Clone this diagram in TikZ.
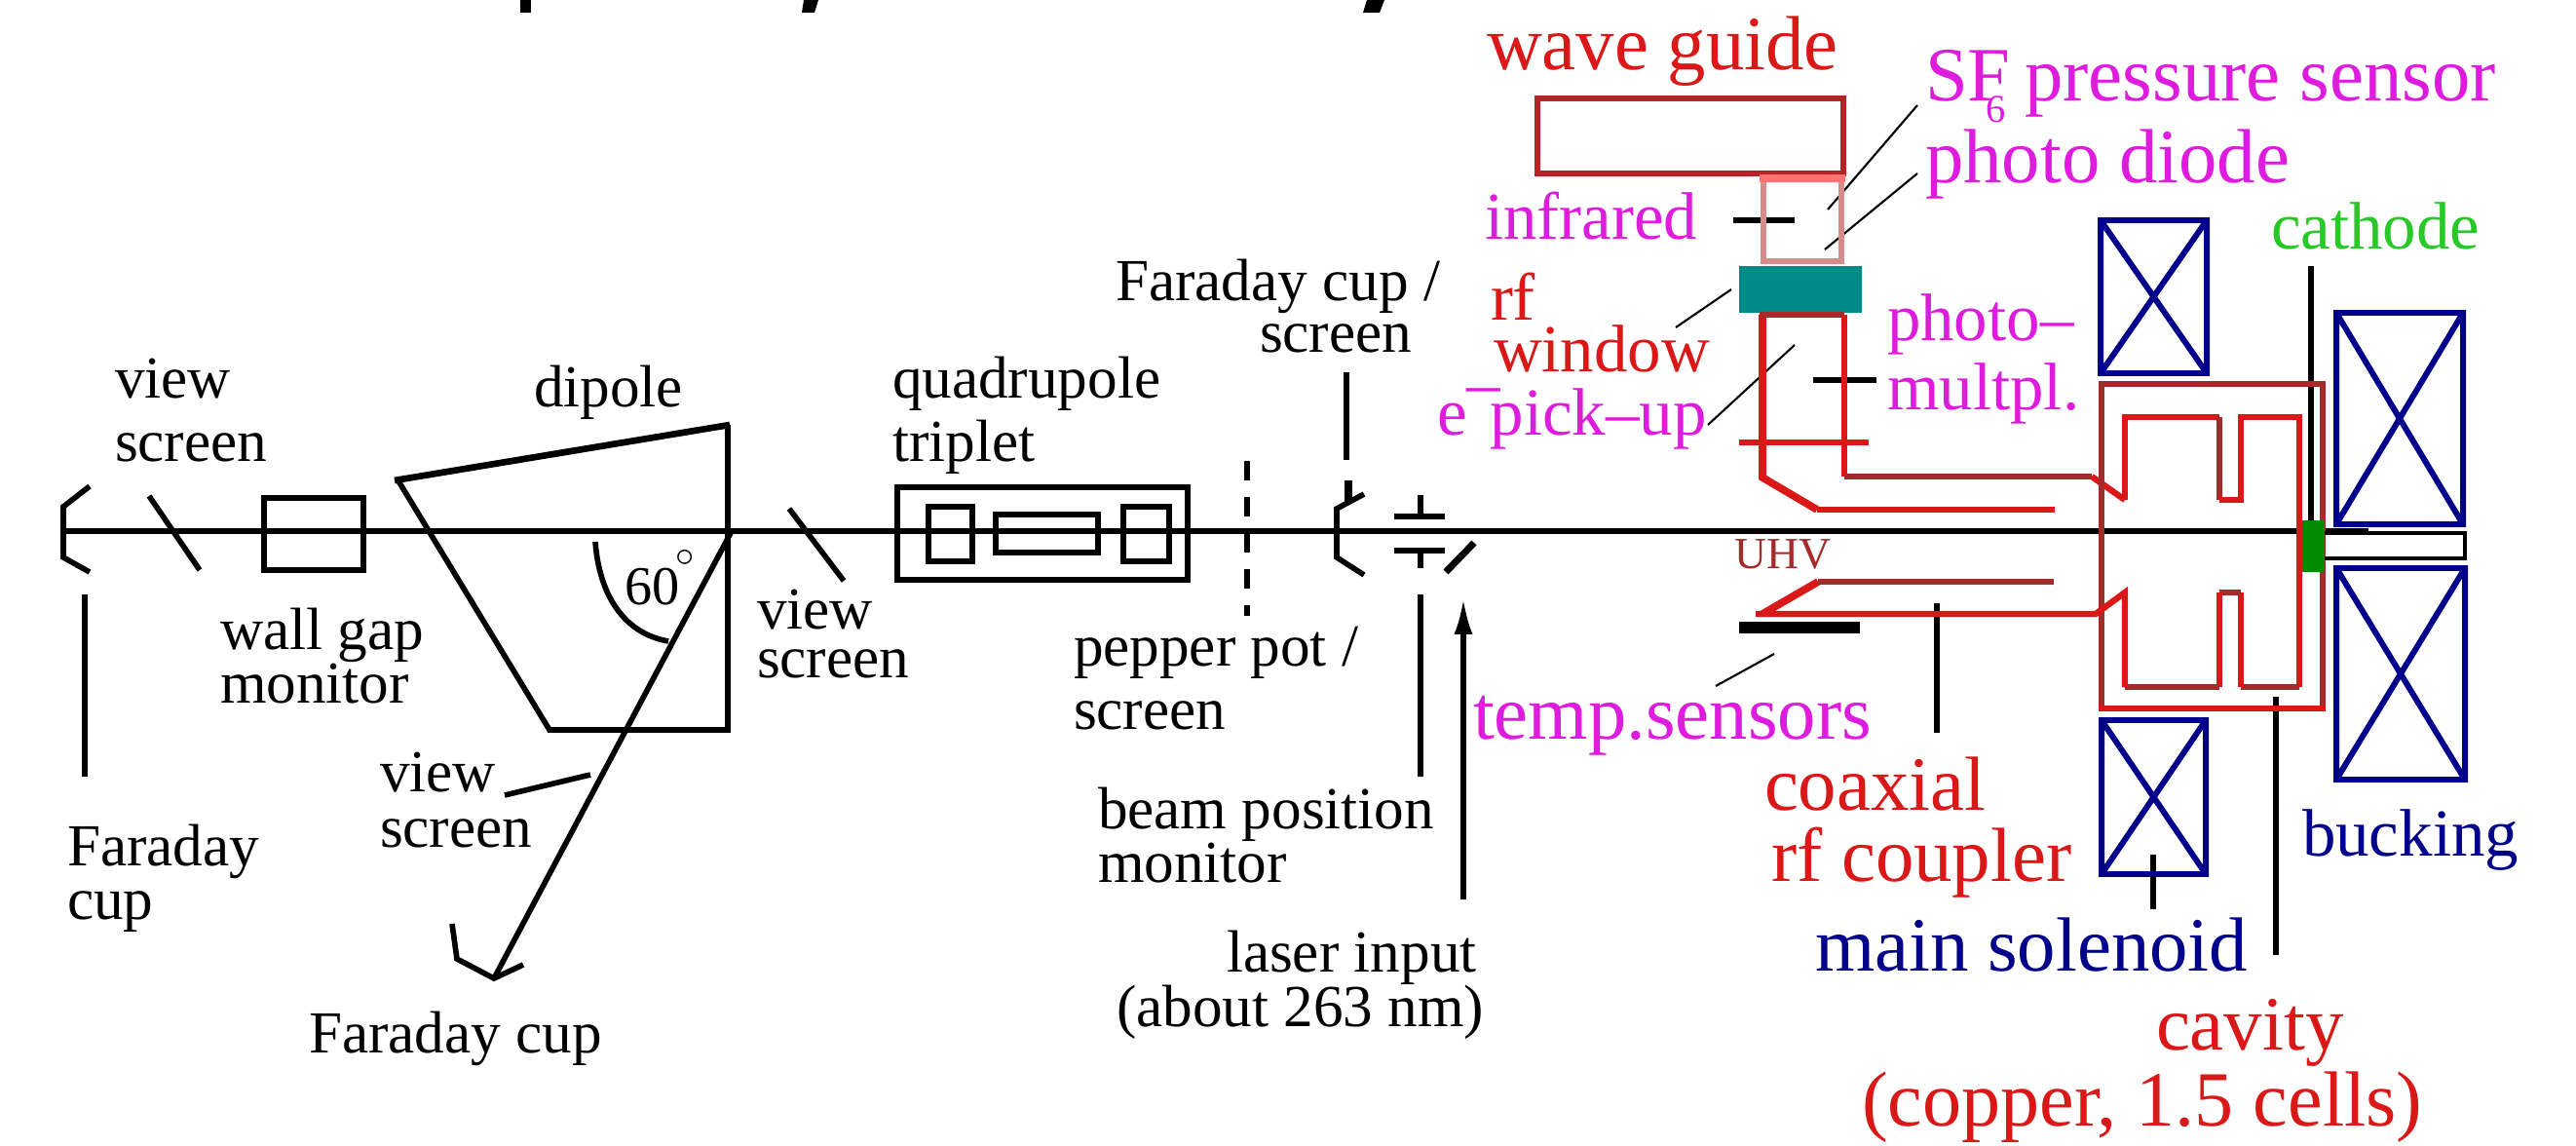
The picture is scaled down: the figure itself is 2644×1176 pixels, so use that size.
\documentclass[tikz,border=0pt]{standalone}
\usepackage{fontspec}
\setmainfont{Liberation Serif}
\usetikzlibrary{arrows.meta}
\definecolor{wavered}{RGB}{218,24,24}
\definecolor{wavebrown}{RGB}{165,42,42}
\definecolor{guidebrown}{RGB}{180,36,36}
\definecolor{sensormag}{RGB}{222,28,222}
\definecolor{coilblue}{RGB}{0,0,139}
\definecolor{windowteal}{RGB}{0,139,139}
\definecolor{cathgreen}{RGB}{0,139,0}
\definecolor{cathlabel}{RGB}{40,200,40}
\definecolor{palerose}{RGB}{215,140,140}
\definecolor{salmonred}{RGB}{255,115,115}
\tikzset{
  lab/.style={anchor=base west,align=left,inner sep=0pt,outer sep=0pt,font=\fontsize{17.4}{18.2}\selectfont},
  big/.style={anchor=base west,align=left,inner sep=0pt,outer sep=0pt,font=\fontsize{22.4}{24}\selectfont},
  mid/.style={anchor=base west,align=left,inner sep=0pt,outer sep=0pt,font=\fontsize{19.6}{21}\selectfont},
  heavy/.style={line width=1.6pt},
  hair/.style={line width=0.6pt},
  coil/.style={coilblue,line width=1.7pt},
  cavred/.style={wavered,line width=1.8pt},
  cavbrown/.style={wavebrown,line width=1.8pt}
}
\begin{document}
\begin{tikzpicture}[x=0.01cm,y=-0.01cm]
  \useasboundingbox (0,0) rectangle (2644,1176);
  % black labels
  \draw
    (118,473) node[lab] (viewA){view\\screen}
    (548,418) node[lab] (dipole){dipole}
    (916,473) node[lab] (triplet){quadrupole\\triplet}
    (226,721) node[lab] (wallgap){wall gap\\[-2.6pt]monitor}
    (777,695) node[lab] (viewB){view\\[-4.2pt]screen}
    (390,869) node[lab] (viewC){view\\[-2pt]screen}
    (69,943) node[lab] (cupA){Faraday\\[-2.6pt]cup}
    (317,1080) node[lab] (cupB){Faraday cup}
    (641,620) node[lab,font=\fontsize{16}{18}\selectfont] (angle){60\kern-.06em\raisebox{.3em}{$^\circ$}}
    (1145,308) node[lab] (cupC){Faraday cup /}
    (1293,362) node[lab] (cupscreen){screen}
    (1102,748) node[lab] (pepper){pepper pot /\\screen}
    (1127,905) node[lab] (bpm){beam position\\[-2.6pt]monitor}
    (1259,997) node[lab] (laser){laser input}
    (1146,1053) node[lab] (laserwl){(about 263 nm)};
  % coloured labels
  \draw
    (1526,72) node[big,wavered] (guide){wave guide}
    (1976,104) node[big,sensormag] (sfsix){SF\kern-.32em\raisebox{-.27em}{\fontsize{11.5}{12}\selectfont 6} pressure sensor}
    (1976,188) node[big,sensormag] (diode){photo diode}
    (1524,246) node[mid,sensormag] (infrared){infrared}
    (1530,329) node[mid,wavered] (rf){rf}
    (1533,382) node[mid,wavered] (window){window}
    (1475,446) node[mid,sensormag] (pickup){e\raisebox{.43em}{–}\kern-.15em pick–up}
    (1937,420) node[mid,sensormag] (multpl){photo–\\[-0.9pt]multpl.}
    (2331,256) node[mid,cathlabel] (cathode){cathode}
    (1780,583) node[wavebrown,anchor=base west,inner sep=0pt,font=\fontsize{13}{14}\selectfont] (uhv){UHV}
    (1512,758) node[big,sensormag] (temp){temp.sensors}
    (1811,831) node[big,wavered] (coaxial){coaxial}
    (1818,904) node[big,wavered] (coupler){rf coupler}
    (1863,996) node[big,coilblue] (solenoid){main solenoid}
    (2363,878) node[mid,coilblue] (bucking){bucking}
    (2213,1077) node[big,wavered] (cavity){cavity}
    (1911,1155) node[big,wavered,font=\fontsize{22.8}{24}\selectfont] (cells){(copper, 1.5 cells)};
  % title remains at the top edge
  \fill (534,0) rectangle (545,13);
  \fill (825,0) -- (840,0) -- (836,13) -- (823,13) -- cycle;
  \fill (1403,0) -- (1421,0) -- (1416,13) -- (1399,13) -- cycle;
  % beam line side
  \begin{scope}[heavy]
    \draw[line width=1.8pt] (67,545) -- (2431,545);
    \draw (92,499) -- (65,520) -- (65,572) -- (92,587);
    \draw (153,509) -- (205,585);
    \draw (271,511) rectangle (373,585);
    \draw (408,492) -- (564,749) -- (747,749) -- (747,436);
    \draw[line width=1.9pt] (405,493) -- (749,436);
    \draw (751,545) -- (507,1004);
    \draw (464,948) -- (469,984) -- (507,1004) -- (537,990);
    \draw (611,556) .. controls (615,610) and (640,650) .. (686,658);
    \draw (518,816) -- (606,795);
    \draw (810,522) -- (866,596);
    \draw (921,500) rectangle (1219,595);
    \draw (953,520) rectangle (998,576);
    \draw (1022,528) rectangle (1127,567);
    \draw (1153,520) rectangle (1200,576);
    \draw[dash pattern=on 5.7pt off 4.8pt,line width=1.8pt] (1280,473) -- (1280,632);
    \draw[line width=2.4pt] (1384,493) -- (1384,517);
    \draw (1400,507) -- (1372,522) -- (1372,572) -- (1400,590);
    \draw (1382,382) -- (1382,472);
    \draw (1431,530) -- (1483,530) (1458,508) -- (1458,530);
    \draw (1431,565) -- (1483,565) (1458,565) -- (1458,583);
    \draw[line width=2pt] (1484,587) -- (1513,557);
    \draw (1458,610) -- (1458,797);
    \draw[-{Latex[length=10.8pt,width=5.4pt]}] (1502,923) -- (1502,613);
    \draw (87,610) -- (87,797);
    \draw (1779,226) -- (1842,226);
    \draw (1861,390) -- (1926,390);
    \draw (1988,619) -- (1988,752);
    \draw (2336,715) -- (2336,980);
    \draw (2372,273) -- (2372,534);
    \draw (2210,877) -- (2210,933);
    \fill (1785,638) rectangle (1909,650);
  \end{scope}
  % thin leaders
  \begin{scope}[hair]
    \draw (1968,108) -- (1876,215);
    \draw (1968,178) -- (1873,256);
    \draw (1777,297) -- (1720,336);
    \draw (1842,354) -- (1753,436);
    \draw (1821,671) -- (1761,704);
  \end{scope}
  % rf parts
  \draw[guidebrown,line width=1.7pt] (1578,101) rectangle (1892,178);
  \draw[palerose,line width=1.7pt] (1810,183) rectangle (1890,268);
  \draw[salmonred,line width=2pt] (1806,183) -- (1894,183);
  \fill[windowteal] (1785,273) rectangle (1911,321);
  \draw[cavred,line width=2.2pt] (1809,323) -- (1809,490) -- (1865,523);
  \draw[cavred] (1865,523) -- (2109,523);
  \draw[cavbrown] (1806,323) -- (1893,323);
  \draw[cavred,line width=1.5pt] (1893,323) -- (1893,489);
  \draw[cavbrown] (1893,489) -- (2147,489);
  \draw[cavred] (2147,489) -- (2181,513);
  \draw[cavred] (1785,454) -- (1918,454);
  \draw[cavbrown] (2157,727) -- (2157,394) -- (2384,394) -- (2384,727);
  \draw[cavred] (2154,727) -- (2387,727);
  \draw[cavred] (2181,513) -- (2181,428) -- (2278,428);
  \draw[cavbrown] (2278,428) -- (2278,513);
  \draw[cavred] (2278,513) -- (2300,513) -- (2300,428) -- (2360,428) -- (2360,705);
  \draw[cavbrown] (2360,705) -- (2300,705);
  \draw[cavred] (2300,705) -- (2300,608);
  \draw[cavbrown] (2300,608) -- (2278,608);
  \draw[cavred] (2278,608) -- (2278,705);
  \draw[cavbrown] (2278,705) -- (2181,705);
  \draw[cavred] (2181,705) -- (2181,608) -- (2151,630) -- (1802,630);
  \draw[cavred,line width=2.2pt] (1809,630) -- (1866,597);
  \draw[cavbrown] (1866,597) -- (2108,597);
  % cathode
  \fill[cathgreen] (2363,534) rectangle (2386,587);
  \draw[line width=1pt] (2386,547) -- (2530,547) -- (2530,573) -- (2386,573);
  % solenoids
  \draw[coil] (2156,226) rectangle (2265,383) (2156,226) -- (2265,383) (2156,383) -- (2265,226);
  \draw[coil] (2157,739) rectangle (2264,897) (2157,739) -- (2264,897) (2157,897) -- (2264,739);
  \draw[coil] (2398,321) rectangle (2528,538) (2398,321) -- (2528,538) (2398,538) -- (2528,321);
  \draw[coil] (2398,583) rectangle (2530,800) (2398,583) -- (2530,800) (2398,800) -- (2530,583);
\end{tikzpicture}
\end{document}
